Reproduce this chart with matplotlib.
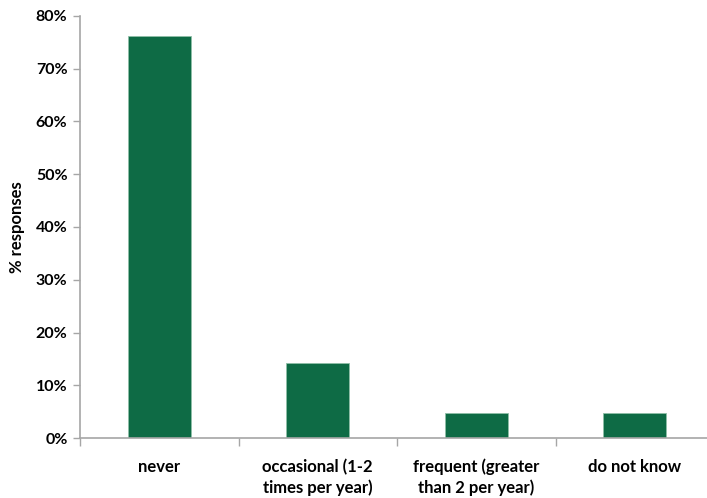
import matplotlib
matplotlib.use("Agg")
import matplotlib.pyplot as plt
from matplotlib.ticker import FixedLocator, PercentFormatter

categories = ["never", "occasional (1-2\ntimes per year)", "frequent (greater\nthan 2 per year)", "do not know"]
values = [76.2, 14.3, 4.7, 4.7]
yticks = [0, 10, 20, 30, 40, 50, 60, 70, 80]

plt.rcParams['font.family'] = ['Lato', 'DejaVu Sans']
fig = plt.figure(figsize=(7.07, 4.98), dpi=100)
ax = fig.add_axes([80/707, 60/498, 634/707, 422/498])

x = list(range(len(categories)))
ax.bar(x, values, width=0.40, color="#0E6B45", edgecolor="#8FBFA8", linewidth=0.6, zorder=2)

ax.set_xlim(-0.5, len(categories) - 0.5)
ax.set_ylim(0, 80)
ax.set_yticks(yticks)
ax.yaxis.set_major_formatter(PercentFormatter(decimals=0))
ax.set_xticks(x)
ax.set_xticklabels(categories, fontsize=12, fontweight='bold', linespacing=1.3)
ax.xaxis.set_minor_locator(FixedLocator([i - 0.5 for i in range(len(categories) + 1)]))
ax.tick_params(axis='x', which='major', length=0, pad=15)
ax.tick_params(axis='x', which='minor', length=6, color='#A6A6A6', width=1)
ax.tick_params(axis='y', length=5, color='#A6A6A6', width=1, labelsize=11.5, pad=4)
for lab in ax.get_yticklabels():
    lab.set_fontweight('bold')

for s in ['top', 'right']:
    ax.spines[s].set_visible(False)
for s in ['left', 'bottom']:
    ax.spines[s].set_color('#A6A6A6')
    ax.spines[s].set_linewidth(1.2)

ax.set_ylabel('% responses', fontsize=12, fontweight='bold', labelpad=8)

fig.savefig('out.png', dpi=100)
